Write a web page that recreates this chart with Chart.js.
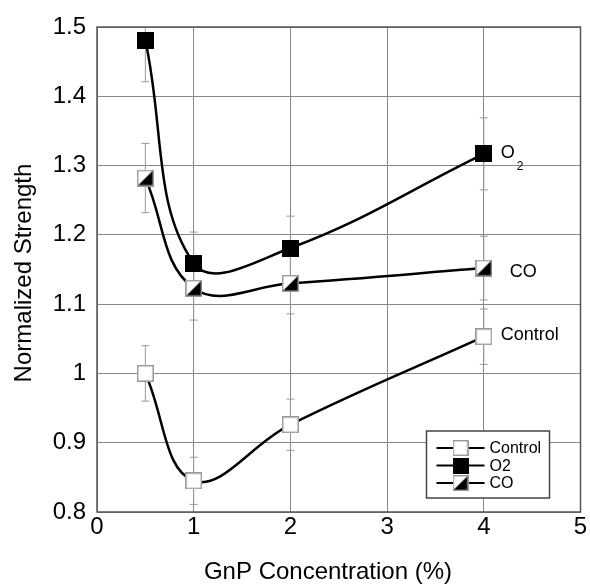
<!DOCTYPE html>
<html>
<head>
<meta charset="utf-8">
<script src="https://cdn.jsdelivr.net/npm/chart.js@4/dist/chart.umd.min.js"></script>
<style>
  html, body { margin: 0; padding: 0; background: #fff; }
  #wrap { width: 590px; height: 584px; }
</style>
</head>
<body>
<div id="wrap"><canvas id="strengthChart" width="590" height="584"></canvas></div>
<script>
/* DATA */
const gnpConc = [0.5, 1, 2, 4];
const controlVals = [1.0, 0.845, 0.926, 1.053];
const o2Vals = [1.481, 1.159, 1.181, 1.317];
const coVals = [1.282, 1.123, 1.130, 1.152];

const controlErr = [0.04, 0.034, 0.037, 0.04];
const o2Err = [0.06, 0.045, 0.046, 0.052];
const coErr = [0.05, 0.046, 0.044, 0.046];

const seriesNames = ["Control", "O2", "CO"];
const xTicks = [0, 1, 2, 3, 4, 5];
const yTicks = [0.8, 0.9, 1, 1.1, 1.2, 1.3, 1.4, 1.5];
const xTitle = "GnP Concentration (%)";
const yTitle = "Normalized Strength";

const FONT = "'Liberation Sans', Arial, sans-serif";

/* MARKERS */
function make_marker(kind, size) {
  const c = document.createElement("canvas");
  c.width = size; c.height = size;
  const g = c.getContext("2d");
  g.fillStyle = "#fff";
  g.fillRect(0, 0, size, size);
  if (kind === "o2") {
    g.fillStyle = "#000";
    g.fillRect(0, 0, size, size);
  } else if (kind === "co") {
    g.fillStyle = "#000";
    g.beginPath();
    g.moveTo(size, 0);
    g.lineTo(size, size);
    g.lineTo(0, size);
    g.closePath();
    g.fill();
  }
  g.strokeStyle = kind === "o2" ? "#000" : "#999";
  g.lineWidth = 1.5;
  g.strokeRect(0.75, 0.75, size - 1.5, size - 1.5);
  return c;
}
const markerSize = 17;
const markers = [make_marker("control", markerSize), make_marker("o2", markerSize), make_marker("co", markerSize)];

function to_points(vals) {
  return gnpConc.map((x, i) => ({ x: x, y: vals[i] }));
}

/* PLUGINS */
const errorBarPlugin = {
  id: "errorBars",
  beforeDatasetsDraw(chart) {
    const ctx = chart.ctx, xs = chart.scales.x, ys = chart.scales.y, area = chart.chartArea;
    const errs = [controlErr, o2Err, coErr];
    const vals = [controlVals, o2Vals, coVals];
    ctx.save();
    ctx.beginPath();
    ctx.rect(area.left, area.top, area.right - area.left, area.bottom - area.top);
    ctx.clip();
    ctx.strokeStyle = "#999";
    ctx.lineWidth = 1;
    for (let s = 0; s < 3; s++) {
      for (let i = 0; i < gnpConc.length; i++) {
        const px = xs.getPixelForValue(gnpConc[i]);
        const top = ys.getPixelForValue(vals[s][i] + errs[s][i]);
        const bot = ys.getPixelForValue(vals[s][i] - errs[s][i]);
        ctx.beginPath();
        ctx.moveTo(px, top); ctx.lineTo(px, bot);
        ctx.moveTo(px - 4, top); ctx.lineTo(px + 4, top);
        ctx.moveTo(px - 4, bot); ctx.lineTo(px + 4, bot);
        ctx.stroke();
      }
    }
    ctx.restore();
  }
};

const labelPlugin = {
  id: "endLabels",
  afterDatasetsDraw(chart) {
    const ctx = chart.ctx, xs = chart.scales.x, ys = chart.scales.y;
    const last = gnpConc.length - 1;
    const px = xs.getPixelForValue(gnpConc[last]);
    ctx.save();
    ctx.fillStyle = "#000";
    ctx.textBaseline = "middle";
    ctx.textAlign = "left";
    ctx.font = "18px " + FONT;
    // O2 with subscript
    const yO2 = ys.getPixelForValue(o2Vals[last]);
    ctx.fillText("O", px + 17, yO2 - 1);
    const ow = ctx.measureText("O").width;
    ctx.font = "12px " + FONT;
    ctx.fillText("2", px + 19 + ow, yO2 + 13);
    ctx.font = "18px " + FONT;
    ctx.fillText("CO", px + 26, ys.getPixelForValue(coVals[last]) + 4);
    ctx.fillText("Control", px + 17, ys.getPixelForValue(controlVals[last]) - 2);
    ctx.restore();
  }
};

const frameLegendPlugin = {
  id: "frameLegend",
  afterDraw(chart) {
    const ctx = chart.ctx, area = chart.chartArea;
    const bx = area.right - 154, by = area.bottom - 81, bw = 123, bh = 67;
    ctx.save();
    // frame of plot
    ctx.strokeStyle = "#555";
    ctx.lineWidth = 1.5;
    ctx.strokeRect(area.left, area.top, area.right - area.left, area.bottom - area.top);
    // axis titles
    ctx.fillStyle = "#000";
    ctx.font = "24px " + FONT;
    ctx.textAlign = "center";
    ctx.textBaseline = "alphabetic";
    ctx.fillText(xTitle, 328, 579);
    ctx.save();
    ctx.translate(31, 273);
    ctx.rotate(-Math.PI / 2);
    ctx.fillText(yTitle, 0, 0);
    ctx.restore();
    // legend
    ctx.fillStyle = "#fff";
    ctx.fillRect(bx, by, bw, bh);
    ctx.strokeStyle = "#444";
    ctx.lineWidth = 1.5;
    ctx.strokeRect(bx, by, bw, bh);
    ctx.font = "16px " + FONT;
    ctx.textAlign = "left";
    ctx.textBaseline = "middle";
    ctx.fillStyle = "#000";
    for (let i = 0; i < seriesNames.length; i++) {
      const cy = by + 17 + i * 17.5;
      ctx.strokeStyle = "#000";
      ctx.lineWidth = 2;
      ctx.beginPath();
      ctx.moveTo(bx + 10, cy); ctx.lineTo(bx + 58, cy);
      ctx.stroke();
      ctx.drawImage(markers[i], bx + 34 - 8, cy - 8, 16, 16);
      ctx.fillText(seriesNames[i], bx + 63, cy + 1);
    }
    ctx.restore();
  }
};

/* CHART */
const chart_dom = document.getElementById("strengthChart").getContext("2d");

const strengthChart = new Chart(chart_dom, {
  type: "line",
  data: {
    datasets: [
      { label: seriesNames[0], data: to_points(controlVals), pointStyle: markers[0] },
      { label: seriesNames[1], data: to_points(o2Vals), pointStyle: markers[1] },
      { label: seriesNames[2], data: to_points(coVals), pointStyle: markers[2] }
    ]
  },
  options: {
    responsive: false,
    animation: false,
    devicePixelRatio: 1,
    layout: { padding: { left: 0, top: 27, right: 7, bottom: 0 } },
    elements: {
      line: { borderColor: "#000", borderWidth: 2.5, tension: 0.4, fill: false },
      point: { radius: 8.5, hoverRadius: 8.5 }
    },
    plugins: {
      legend: { display: false },
      tooltip: { enabled: false }
    },
    scales: {
      x: {
        type: "linear",
        min: 0, max: 5,
        afterBuildTicks: (s) => { s.ticks = xTicks.map(v => ({ value: v })); },
        afterFit: (s) => { s.height = 72; s.paddingRight = 0; s.paddingLeft = 0; },
        grid: { color: "#888", lineWidth: 1, drawTicks: false },
        border: { display: false },
        ticks: { color: "#000", padding: 1, font: { family: FONT, size: 24 } },
        title: { display: false }
      },
      y: {
        min: 0.8, max: 1.5,
        afterBuildTicks: (s) => { s.ticks = yTicks.map(v => ({ value: v })); },
        afterFit: (s) => { s.width = 97; },
        grid: { color: "#888", lineWidth: 1, drawTicks: false },
        border: { display: false },
        ticks: {
          color: "#000", padding: 11, font: { family: FONT, size: 24 },
          callback: (v) => String(Math.round(v * 10) / 10)
        },
        title: { display: false }
      }
    }
  },
  plugins: [errorBarPlugin, labelPlugin, frameLegendPlugin]
});
</script>
</body>
</html>
